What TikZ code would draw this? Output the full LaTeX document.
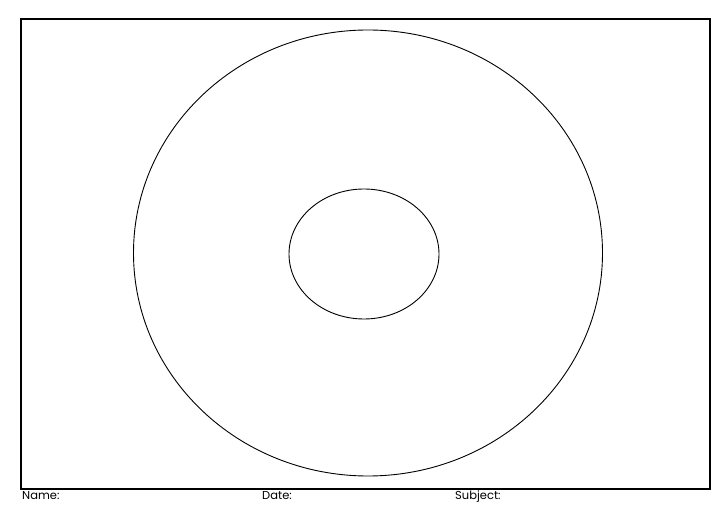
\documentclass[tikz,border=0pt]{standalone}
\usepackage{fontspec}
\setmainfont{Poppins}
\usetikzlibrary{shapes.geometric,positioning}

\begin{document}
\begin{tikzpicture}[x=1pt, y=1pt, ring/.style={draw, ellipse, line width=0.9pt, inner sep=0pt}, label/.style={anchor=base west, inner sep=0pt, font=\fontsize{11.5}{13}\selectfont}]
  \useasboundingbox (0,0) rectangle (728,514);
  % frame and rings
  \node[draw, line width=2pt, minimum width=689pt, minimum height=470pt, inner sep=0pt] (frame) at (365.5,260) {};
  \node[ring, minimum width=469pt, minimum height=446pt] (outer) at (368,261) {};
  \node[ring, minimum width=150pt, minimum height=130pt] (inner) at (364,260) {};

  % labels under the frame
  \node[label] (name) at (22,15) {Name:};
  \node[label] (date) at (262,15) {Date:};
  \node[label] (subject) at (455,15) {Subject:};
\end{tikzpicture}
\end{document}
